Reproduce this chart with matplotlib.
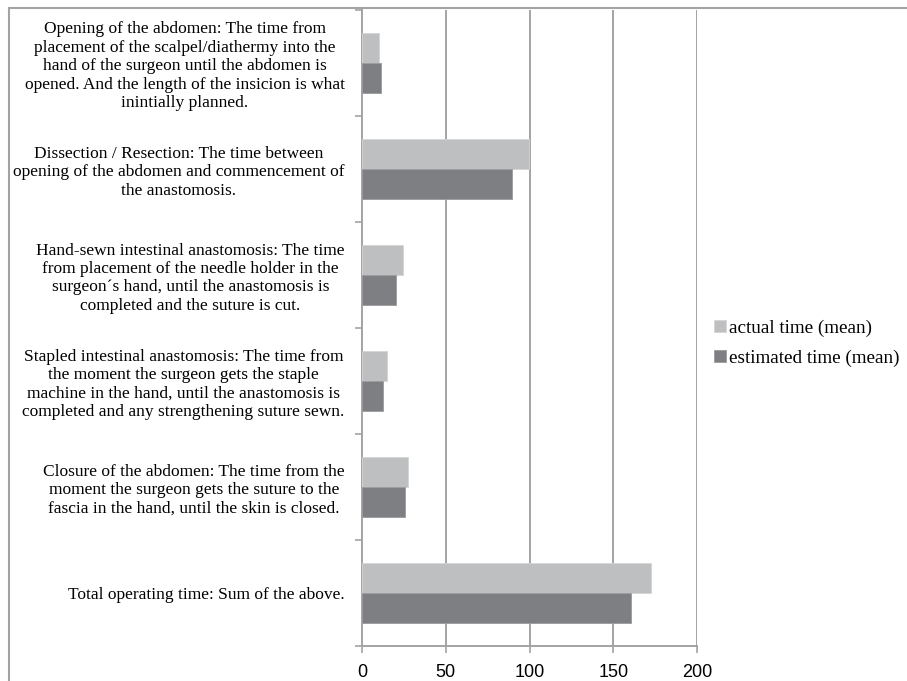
import matplotlib
matplotlib.use("Agg")
import matplotlib.pyplot as plt
from matplotlib.lines import Line2D
import numpy as np

categories = [
    "Opening of the abdomen: The time from\nplacement of the scalpel/diathermy into the\n"
    "hand of the surgeon until the abdomen is\nopened. And the length of the insicion is what\n"
    "inintially planned.",
    "Dissection / Resection: The time between\nopening of the abdomen and commencement of\n"
    "the anastomosis.",
    "Hand-sewn intestinal anastomosis: The time\nfrom placement of the needle holder in the\n"
    "surgeon\u00b4s hand, until the anastomosis is\ncompleted and the suture is cut.",
    "Stapled intestinal anastomosis: The time from\nthe moment the surgeon gets the staple\n"
    "machine in the hand, until the anastomosis is\ncompleted and any strengthening suture sewn.",
    "Closure of the abdomen: The time from the\nmoment the surgeon gets the suture to the\n"
    "fascia in the hand, until the skin is closed.",
    "Total operating time: Sum of the above.",
]
actual = [10.3, 99.8, 24.3, 15.1, 27.3, 172.7]
estimated = [11.5, 89.5, 20.3, 12.7, 25.8, 160.4]
xticks = [0, 50, 100, 150, 200]

LIGHT = "#bebfc1"
DARK = "#7e7f83"
LINE = "#a3a3a3"
SERIF = "Liberation Serif"

fig = plt.figure(figsize=(9.07, 6.81), dpi=100)
ax = fig.add_axes([362 / 907, 1 - 646 / 681, 335 / 907, 636 / 681])

y = np.arange(len(categories))
h = 0.283
ax.barh(y - h / 2, actual, height=h, color=LIGHT, edgecolor="#d4d5d6", linewidth=0.6,
        label="actual time (mean)", zorder=3)
ax.barh(y + h / 2, estimated, height=h, color=DARK, edgecolor="#9a9b9e", linewidth=0.6,
        label="estimated time (mean)", zorder=3)

ax.set_xlim(0, 200)
ax.set_ylim(len(categories) - 0.5, -0.5)
ax.set_xticks(xticks)
ax.set_xticklabels([str(t) for t in xticks], fontfamily="Liberation Sans", fontsize=13)
ax.tick_params(axis="x", direction="out", length=5, color=LINE, width=1.2, pad=8)
for t in xticks[1:]:
    ax.axvline(t, color=LINE, lw=1.4, zorder=1)

ax.set_yticks(np.arange(-0.5, len(categories)), minor=False)
ax.set_yticklabels([])
ax.set_yticks(y, minor=True)
ax.set_yticklabels(categories, minor=True, fontfamily=SERIF, fontsize=12.5,
                   multialignment="center", linespacing=1.2)
ax.tick_params(axis="y", which="major", direction="out", length=5, color=LINE, width=1.2)
ax.tick_params(axis="y", which="minor", length=0, pad=12.5)

for s in ["top", "right"]:
    ax.spines[s].set_visible(False)
for s in ["left", "bottom"]:
    ax.spines[s].set_color(LINE)
    ax.spines[s].set_linewidth(1.4)

fig.legend(loc="center left", bbox_to_anchor=(714 / 907, 1 - 343 / 681), frameon=False,
           prop={"family": SERIF, "size": 13.8}, handlelength=0.62, handleheight=0.62,
           handletextpad=0.15, labelspacing=0.65, borderaxespad=0, borderpad=0)

# outer chart-area border (top and left edges)
fig.add_artist(Line2D([9 / 907, 9 / 907], [0, 1 - 8 / 681], transform=fig.transFigure,
                      color=LINE, lw=1.5))
fig.add_artist(Line2D([9 / 907, 906 / 907], [1 - 8 / 681, 1 - 8 / 681],
                      transform=fig.transFigure, color=LINE, lw=1.5))

fig.savefig("out.png", dpi=100)
